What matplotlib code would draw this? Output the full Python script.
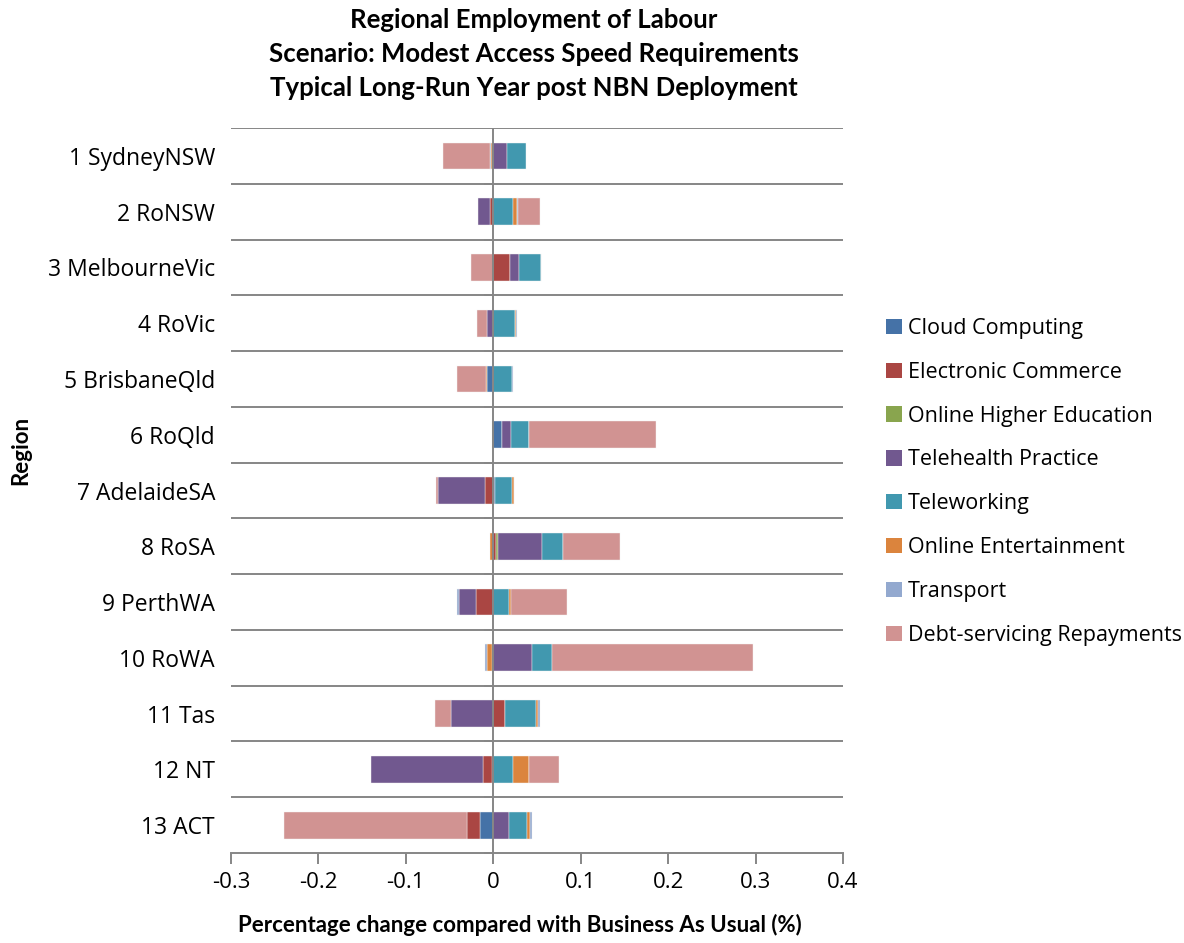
import numpy as np
import matplotlib
matplotlib.use("Agg")
import matplotlib.pyplot as plt
from matplotlib.patches import Patch

plt.rcParams['font.family'] = ['Open Sans', 'DejaVu Sans']

regions = ["1 SydneyNSW", "2 RoNSW", "3 MelbourneVic", "4 RoVic", "5 BrisbaneQld",
           "6 RoQld", "7 AdelaideSA", "8 RoSA", "9 PerthWA", "10 RoWA", "11 Tas",
           "12 NT", "13 ACT"]

series_names = ["Cloud Computing", "Electronic Commerce", "Online Higher Education",
                "Telehealth Practice", "Teleworking", "Online Entertainment",
                "Transport", "Debt-servicing Repayments"]

cloud_computing   = [0.000, 0.000, 0.000, 0.000, -0.007, 0.010, 0.002, 0.000, 0.000, -0.002, 0.000, -0.002, -0.0156]
electronic_comm   = [0.000, -0.0035, 0.0195, 0.000, 0.000, 0.000, -0.009, 0.0035, -0.0198, 0.000, 0.0137, -0.0103, -0.0145]
online_higher_ed  = [0.000, 0.000, 0.000, 0.000, 0.000, -0.002, 0.000, 0.002, 0.000, 0.000, 0.000, 0.000, 0.000]
telehealth        = [0.016, -0.014, 0.010, -0.007, 0.000, 0.010, -0.054, 0.0507, -0.0195, 0.044, -0.0484, -0.127, 0.018]
teleworking       = [0.021, 0.023, 0.025, 0.0245, 0.021, 0.0205, 0.0195, 0.024, 0.018, 0.023, 0.035, 0.023, 0.021]
online_entertain  = [-0.0027, 0.004, 0.000, 0.0015, -0.001, 0.000, 0.002, -0.0035, 0.0026, -0.0057, 0.0027, 0.018, 0.003]
transport         = [-0.001, 0.001, 0.000, 0.001, 0.001, 0.000, 0.000, 0.000, -0.002, -0.0015, 0.002, 0.000, 0.002]
debt_servicing    = [-0.054, 0.025, -0.026, -0.012, -0.033, 0.146, -0.002, 0.0645, 0.064, 0.230, -0.018, 0.0347, -0.209]

colors = ["#4572A7", "#AA4643", "#89A54E", "#71588F", "#4198AF", "#DB843D", "#93A9CF", "#D19392"]

xticks = [-0.3, -0.2, -0.1, 0, 0.1, 0.2, 0.3, 0.4]
xtick_labels = ["-0.3", "-0.2", "-0.1", "0", "0.1", "0.2", "0.3", "0.4"]

data = [cloud_computing, electronic_comm, online_higher_ed, telehealth,
        teleworking, online_entertain, transport, debt_servicing]

fig = plt.figure(figsize=(11.84, 9.43), dpi=100)
ax = fig.add_axes([231/1184, 1-853/943, (843-231)/1184, (853-128)/943])

y = np.arange(len(regions))
pos_off = np.zeros(len(regions))
neg_off = np.zeros(len(regions))
for vals, col in zip(data, colors):
    v = np.array(vals, dtype=float)
    left = np.where(v >= 0, pos_off, neg_off)
    ax.barh(y, v, left=left, height=0.48, color=col, edgecolor='#f4f4f4',
            linewidth=0.3, zorder=3)
    pos_off = pos_off + np.where(v > 0, v, 0)
    neg_off = neg_off + np.where(v < 0, v, 0)

ax.set_xlim(-0.3, 0.4)
ax.set_ylim(len(regions) - 0.5, -0.5)
ax.set_xticks(xticks)
ax.set_xticklabels(xtick_labels)
ax.set_yticks(y)
ax.set_yticklabels(regions)

grid_col = "#868686"
for k in range(len(regions)):
    ax.axhline(k - 0.5, color=grid_col, linewidth=1.4, zorder=1)
ax.axvline(0, color=grid_col, linewidth=1.4, zorder=4)
for k in range(1, len(regions) + 1):
    ax.plot([-0.009, 0], [k - 0.5, k - 0.5], color=grid_col, linewidth=1.4,
            zorder=4, clip_on=False)

for s in ['top', 'right', 'left']:
    ax.spines[s].set_visible(False)
ax.spines['bottom'].set_color(grid_col)
ax.spines['bottom'].set_linewidth(1.4)
ax.tick_params(axis='y', length=0, pad=11.5, labelsize=16.5)
ax.tick_params(axis='x', length=8, width=1.4, color=grid_col, labelsize=16, pad=6)

ax.set_xlabel("Percentage change compared with Business As Usual (%)",
              fontsize=16, fontweight='bold', family=['Lato', 'DejaVu Sans'])
ax.xaxis.set_label_coords((519.5-231)/612, (853-914)/725)
ax.set_ylabel("Region", fontsize=16, fontweight='bold', family=['Lato', 'DejaVu Sans'])
ax.yaxis.set_label_coords((31-231)/612, (853-450)/725)

for ypix, txt in zip([20, 54, 88], ["Regional Employment of Labour",
                                    "Scenario: Modest Access Speed Requirements",
                                    "Typical Long-Run Year post NBN Deployment"]):
    fig.text(534/1184, 1-ypix/943, txt, ha='center', va='center',
             fontsize=18.5, fontweight='bold', family=['Lato', 'DejaVu Sans'])

handles = [Patch(facecolor=c, edgecolor='none') for c in colors]
fig.legend(handles, series_names, loc='upper left',
           bbox_to_anchor=(886/1184, 1-318/943), frameon=False, fontsize=15.5,
           handlelength=0.72, handleheight=0.72, handletextpad=0.28, labelspacing=1.06,
           borderaxespad=0, borderpad=0)

fig.savefig("out.png", dpi=100)
